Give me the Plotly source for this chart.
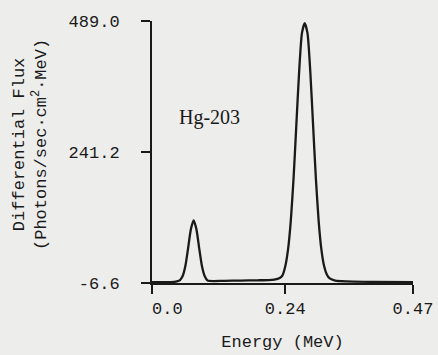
import plotly.graph_objects as go

# Energy (MeV) and differential flux
energy = [0.000, 0.020, 0.040, 0.045, 0.050, 0.055, 0.060, 0.065, 0.070, 0.075, 0.080,
          0.085, 0.090, 0.095, 0.100, 0.130, 0.160, 0.190, 0.210, 0.220, 0.230,
          0.235, 0.240, 0.245, 0.250, 0.255, 0.260, 0.265, 0.270, 0.275, 0.280,
          0.285, 0.290, 0.295, 0.300, 0.305, 0.310, 0.315, 0.320, 0.330, 0.350,
          0.400, 0.470]
flux = [-5.0, -5.0, -4.5, -3.5, -1.5, 6, 25, 59, 95, 112, 95,
        59, 25, 6, -2.0, -2.5, -2.0, -1.5, -1.0, 0.0, 3.0,
        8, 25, 57, 112, 193, 294, 394, 466, 485, 466,
        394, 294, 193, 112, 57, 25, 9, 2.0, -2.0, -3.5,
        -4.5, -5.0]

x_ticks = [0.0, 0.24, 0.47]
x_ticktext = ["\u00a0\u00a0\u00a00.0", "0.24", "0.47"]
y_ticks = [-6.6, 241.2, 489.0]
y_ticktext = ["-6.6", "241.2", "489.0"]

FONT = "Liberation Mono, DejaVu Sans Mono, monospace"
INK = "#1a1a1a"
BG = "#ededeb"

fig = go.Figure()
fig.add_trace(go.Scatter(x=energy, y=flux, mode="lines",
                         line=dict(color=INK, width=2.3, shape="spline", smoothing=0.6),
                         showlegend=False, hoverinfo="skip"))

fig.update_layout(
    width=438, height=355,
    margin=dict(l=152, r=25, t=21, b=72),
    paper_bgcolor=BG, plot_bgcolor=BG,
    font=dict(family=FONT, size=17, color=INK),
    xaxis=dict(range=[0, 0.47], tickvals=x_ticks, ticktext=x_ticktext, automargin=False,
               showgrid=False, zeroline=False, showline=True, linecolor=INK, linewidth=2,
               ticks="outside", ticklen=9, tickwidth=2, tickcolor=INK,
               ticklabelstandoff=0,
               title=dict(text="Energy (MeV)", standoff=17, font=dict(family=FONT, size=17, color=INK))),
    yaxis=dict(range=[-6.6, 489.0], tickvals=y_ticks, ticktext=y_ticktext, automargin=False,
               showgrid=False, zeroline=False, showline=True, linecolor=INK, linewidth=2,
               ticks="outside", ticklen=9, tickwidth=2, tickcolor=INK,
               ticklabelstandoff=18),
    annotations=[
        dict(text="Differential Flux<br>(Photons/sec\u00b7cm<sup>2</sup>\u00b7MeV)",
             xref="paper", yref="paper", x=(30 - 152) / 261, y=(283 - 145) / 262,
             xanchor="center", yanchor="middle", textangle=-90, showarrow=False,
             font=dict(family=FONT, size=17, color=INK)),
        dict(text="Hg-203", xref="paper", yref="paper",
             x=(209 - 152) / 261, y=(283 - 117) / 262, xanchor="center", yanchor="middle",
             showarrow=False, font=dict(family="Liberation Serif, serif", size=20, color=INK)),
    ],
)

fig.write_html("out.html")
